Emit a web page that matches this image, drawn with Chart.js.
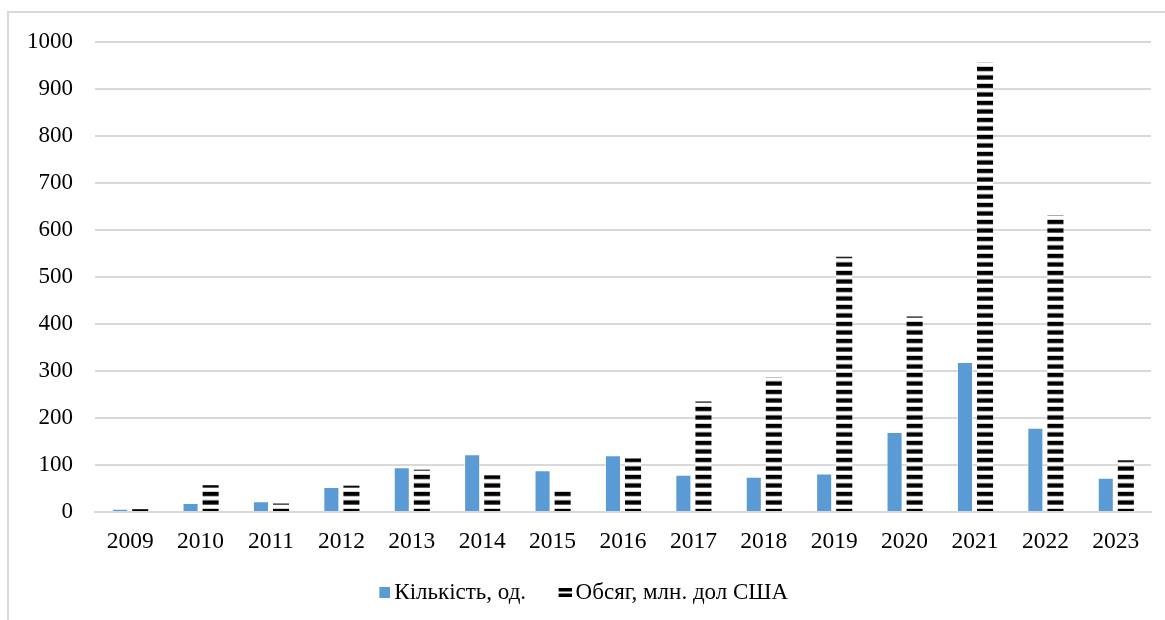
<!DOCTYPE html>
<html lang="uk">
<head>
<meta charset="utf-8">
<title>Кількість та обсяг угод, 2009–2023</title>
<script src="https://cdn.jsdelivr.net/npm/chart.js@4/dist/chart.umd.min.js"></script>
<style>
  html, body { margin: 0; padding: 0; background: #fff; overflow: hidden; }
  #frame {
    position: absolute; left: 7px; top: 11px;
    width: 1180px; height: 640px;
    border: 2px solid #d9d9d9; box-sizing: border-box;
  }
  #wrap { position: absolute; left: 0; top: 0; width: 1165px; height: 620px; }
</style>
</head>
<body>
<div id="frame"></div>
<div id="wrap"><canvas id="chart" width="1165" height="620"></canvas></div>
<script>
// Years on the category axis
const years = ['2009','2010','2011','2012','2013','2014','2015','2016','2017','2018','2019','2020','2021','2022','2023'];

// Number of deals, units
const countValues = [7, 19, 23, 53, 95, 123, 89, 121, 79, 75, 82, 170, 319, 179, 73];

// Deal volume, USD million
const volumeValues = [6, 57, 18, 56, 90, 78, 50, 114, 235, 287, 543, 416, 956, 631, 110];

// Value-axis ticks
const yTicks = [0, 100, 200, 300, 400, 500, 600, 700, 800, 900, 1000];

const seriesNames = ['Кількість, од.', 'Обсяг, млн. дол США'];

const BLUE = '#5b9bd5';
const GRID = '#d9d9d9';
const SERIF = '"Liberation Serif", "Times New Roman", serif';

// Horizontal-stripe fill for the volume bars: black dash, white gap
const STRIPE_PERIOD = 8.5;
const STRIPE_INK = 4.3;
function makeStripeCanvas() {
  const c = document.createElement('canvas');
  c.width = 8; c.height = STRIPE_PERIOD * 2;
  const g = c.getContext('2d');
  g.fillStyle = '#fff';
  g.fillRect(0, 0, c.width, c.height);
  g.fillStyle = '#000';
  g.fillRect(0, 0, c.width, STRIPE_INK);
  g.fillRect(0, STRIPE_PERIOD, c.width, STRIPE_INK);
  return c;
}
const stripePattern = document.getElementById('chart').getContext('2d')
  .createPattern(makeStripeCanvas(), 'repeat');

// Legend swatches: the mark sits at the right end of a transparent strip,
// so it lands just before the label text
function blueSwatch() {
  const c = document.createElement('canvas');
  c.width = 32; c.height = 11;
  const g = c.getContext('2d');
  g.fillStyle = BLUE; g.fillRect(21, 0, 11, 11);
  return c;
}
function stripeSwatch() {
  const c = document.createElement('canvas');
  c.width = 32; c.height = 11;
  const g = c.getContext('2d');
  g.fillStyle = '#000';
  g.fillRect(19, 1, 13, 3.5);
  g.fillRect(19, 6.5, 13, 3.5);
  return c;
}
const swatches = [blueSwatch(), stripeSwatch()];

// Keep the stripes anchored to the zero line
const stripeAnchor = {
  id: 'stripeAnchor',
  beforeDatasetsDraw(chart) {
    const base = chart.scales.y.getPixelForValue(0);
    stripePattern.setTransform(new DOMMatrix().translate(0, base - 3.2));
  }
};

new Chart(document.getElementById('chart'), {
  type: 'bar',
  data: {
    labels: years,
    datasets: [
      {
        label: seriesNames[0],
        data: countValues,
        backgroundColor: BLUE,
        borderColor: 'rgba(255,255,255,0.55)',
        borderWidth: 1,
        borderSkipped: 'bottom',
        categoryPercentage: 0.57,
        barPercentage: 0.8
      },
      {
        label: seriesNames[1],
        data: volumeValues,
        backgroundColor: stripePattern,
        borderWidth: 0,
        categoryPercentage: 0.57,
        barPercentage: 0.8
      }
    ]
  },
  plugins: [stripeAnchor],
  options: {
    responsive: false,
    animation: false,
    events: [],
    layout: { padding: { left: 3, right: 14, top: 42, bottom: 6 } },
    plugins: {
      title: { display: false },
      tooltip: { enabled: false },
      legend: {
        position: 'bottom',
        labels: {
          font: { family: SERIF, size: 23 },
          color: '#000',
          usePointStyle: true,
          pointStyleWidth: 17,
          boxWidth: 17,
          boxHeight: 23,
          padding: 21,
          generateLabels(chart) {
            return chart.data.datasets.map((ds, i) => ({
              text: ds.label,
              datasetIndex: i,
              pointStyle: swatches[i],
              fillStyle: 'transparent',
              strokeStyle: 'transparent',
              lineWidth: 0,
              hidden: false,
              fontColor: '#000'
            }));
          }
        }
      }
    },
    scales: {
      x: {
        grid: { display: false, drawTicks: false },
        border: { display: true, color: GRID, width: 2 },
        ticks: {
          font: { family: SERIF, size: 23.5 },
          color: '#000',
          padding: 16,
          maxRotation: 0,
          autoSkip: false
        },
        afterFit(scale) { scale.height = 48; }
      },
      y: {
        min: yTicks[0],
        max: yTicks[yTicks.length - 1],
        afterBuildTicks(scale) { scale.ticks = yTicks.map(v => ({ value: v })); },
        grid: { color: GRID, lineWidth: 2, drawTicks: false },
        border: { display: false },
        ticks: {
          font: { family: SERIF, size: 23 },
          color: '#000',
          padding: 22,
          callback: (v) => String(v)
        },
        afterFit(scale) { scale.width = 92; }
      }
    }
  }
});
</script>
</body>
</html>
